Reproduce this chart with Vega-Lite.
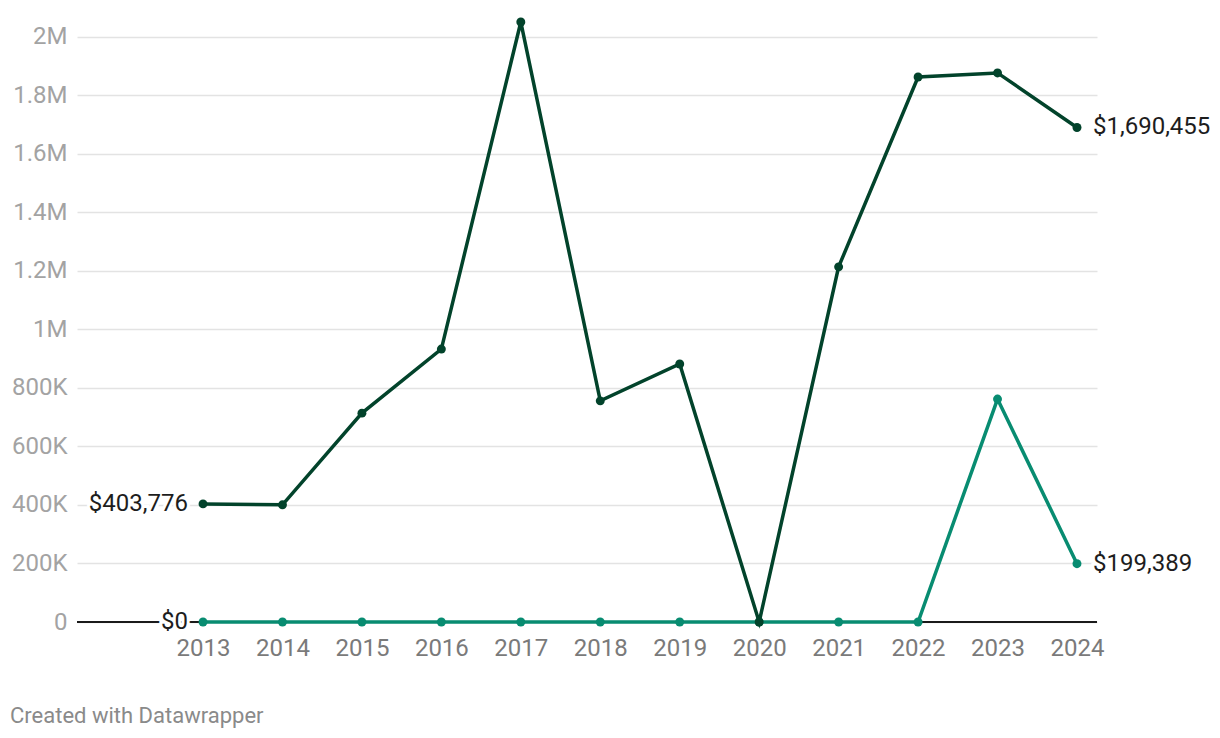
{
  "$schema": "https://vega.github.io/schema/vega-lite/v6.json",
  "autosize": "none",
  "width": 1020,
  "height": 607,
  "padding": {"left": 77, "top": 15, "right": 123, "bottom": 116},
  "background": "white",
  "config": {
    "font": "Roboto",
    "view": {"stroke": null}
  },
  "title": {
    "text": "Created with Datawrapper",
    "orient": "bottom",
    "anchor": "start",
    "frame": "group",
    "dx": -67,
    "offset": 46,
    "fontSize": 22,
    "fontWeight": "normal",
    "color": "#8a8a8a",
    "font": "Roboto"
  },
  "data": {
    "values": [
      {"year": 2013, "series": "light", "value": 0},
      {"year": 2014, "series": "light", "value": 0},
      {"year": 2015, "series": "light", "value": 0},
      {"year": 2016, "series": "light", "value": 0},
      {"year": 2017, "series": "light", "value": 0},
      {"year": 2018, "series": "light", "value": 0},
      {"year": 2019, "series": "light", "value": 0},
      {"year": 2020, "series": "light", "value": 0},
      {"year": 2021, "series": "light", "value": 0},
      {"year": 2022, "series": "light", "value": 0},
      {"year": 2023, "series": "light", "value": 762000},
      {"year": 2024, "series": "light", "value": 199389},
      {"year": 2013, "series": "dark", "value": 403776},
      {"year": 2014, "series": "dark", "value": 400500},
      {"year": 2015, "series": "dark", "value": 714000},
      {"year": 2016, "series": "dark", "value": 933000},
      {"year": 2017, "series": "dark", "value": 2051000},
      {"year": 2018, "series": "dark", "value": 756000},
      {"year": 2019, "series": "dark", "value": 882000},
      {"year": 2020, "series": "dark", "value": 0},
      {"year": 2021, "series": "dark", "value": 1214000},
      {"year": 2022, "series": "dark", "value": 1863000},
      {"year": 2023, "series": "dark", "value": 1877000},
      {"year": 2024, "series": "dark", "value": 1690455}
    ]
  },
  "encoding": {
    "x": {
      "field": "year",
      "type": "quantitative",
      "scale": {"domain": [2011.414, 2024.252], "nice": false, "zero": false},
      "axis": {
        "title": null,
        "values": [2013, 2014, 2015, 2016, 2017, 2018, 2019, 2020, 2021, 2022, 2023, 2024],
        "format": "d",
        "grid": false,
        "ticks": false,
        "domain": false,
        "labelFontSize": 24,
        "labelColor": "#7a7a7a",
        "labelPadding": 14,
        "labelFont": "Roboto"
      }
    },
    "y": {
      "field": "value",
      "type": "quantitative",
      "scale": {"domain": [0, 2075000], "nice": false},
      "axis": {
        "title": null,
        "values": [0, 200000, 400000, 600000, 800000, 1000000, 1200000, 1400000, 1600000, 1800000, 2000000],
        "labelExpr": "datum.value == 0 ? '0' : (datum.value >= 1000000 ? format(datum.value / 1000000, '~g') + 'M' : format(datum.value / 1000, 'd') + 'K')",
        "grid": true,
        "gridColor": "#e3e3e3",
        "gridWidth": 1.5,
        "ticks": false,
        "domain": false,
        "labelFontSize": 24,
        "labelColor": "#a3a3a3",
        "labelPadding": 10,
        "labelFont": "Roboto"
      }
    }
  },
  "layer": [
    {
      "mark": {"type": "rule", "color": "#1a1a1a", "strokeWidth": 2},
      "encoding": {"x": {"datum": 2011.414}, "x2": {"datum": 2024.252}, "y": {"datum": 0}}
    },
    {
      "transform": [{"filter": "datum.series == 'light'"}],
      "mark": {"type": "line", "color": "#088c71", "strokeWidth": 3.5}
    },
    {
      "transform": [{"filter": "datum.series == 'light'"}],
      "mark": {"type": "point", "filled": true, "opacity": 1, "color": "#088c71", "size": 80}
    },
    {
      "transform": [{"filter": "datum.series == 'dark'"}],
      "mark": {"type": "line", "color": "#02432b", "strokeWidth": 3.5}
    },
    {
      "transform": [{"filter": "datum.series == 'dark'"}],
      "mark": {"type": "point", "filled": true, "opacity": 1, "color": "#02432b", "size": 80}
    },
    {
      "transform": [{"filter": "datum.year == 2013"}],
      "mark": {"type": "text", "align": "right", "baseline": "middle", "dx": -15, "fontSize": 24, "fill": "white", "stroke": "white", "strokeWidth": 6},
      "encoding": {"text": {"field": "value", "type": "quantitative", "format": "$,.0f"}}
    },
    {
      "transform": [{"filter": "datum.year == 2013"}],
      "mark": {"type": "text", "align": "right", "baseline": "middle", "dx": -15, "fontSize": 24, "color": "#1d1d1d"},
      "encoding": {"text": {"field": "value", "type": "quantitative", "format": "$,.0f"}}
    },
    {
      "transform": [{"filter": "datum.year == 2024"}],
      "mark": {"type": "text", "align": "left", "baseline": "middle", "dx": 16, "fontSize": 24, "fill": "white", "stroke": "white", "strokeWidth": 6},
      "encoding": {"text": {"field": "value", "type": "quantitative", "format": "$,.0f"}}
    },
    {
      "transform": [{"filter": "datum.year == 2024"}],
      "mark": {"type": "text", "align": "left", "baseline": "middle", "dx": 16, "fontSize": 24, "color": "#1d1d1d"},
      "encoding": {"text": {"field": "value", "type": "quantitative", "format": "$,.0f"}}
    }
  ]
}
